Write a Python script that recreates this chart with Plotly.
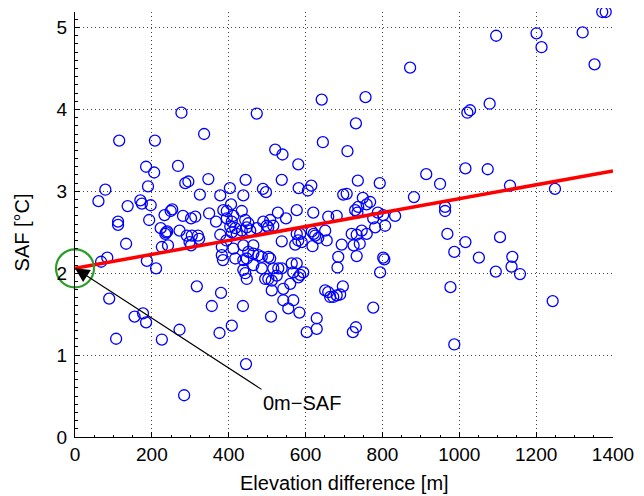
import plotly.graph_objects as go

# Elevation difference [m] and SAF [°C]
elev = [61, 79, 68, 84, 89, 107, 112, 112, 115, 133, 137,
        155, 170, 174, 177, 185, 187, 185, 190, 193, 197, 206, 208, 211,
        223, 226, 226, 233, 235, 237, 240, 242, 249, 253, 268, 272, 272, 277, 281, 284, 287, 295, 291, 298,
        302, 304, 302, 313, 317, 320, 323, 325,
        336, 347, 349, 356, 367, 376, 378, 378, 380, 382, 382, 385, 386, 395, 394, 395, 403, 406, 408, 404,
        408, 408, 412, 412, 417, 417, 421,
        434, 434, 438, 438, 438, 438, 443, 443, 444, 447, 447, 447, 437, 445, 451, 451, 456, 464, 464, 464,
        473, 473, 477,
        486, 486, 489, 497, 490, 495, 499, 503, 503, 503, 508, 508, 512, 512, 510, 516, 516, 521, 525, 528, 529,
        538, 538, 538, 540, 542, 542, 549, 555, 560, 564, 568, 568, 573, 577, 577, 577, 581, 582, 581, 581, 584,
        586, 590, 594, 586, 603, 606, 615, 616, 621, 620, 618, 625, 629, 629, 633, 642, 645, 651, 651, 655, 659, 659,
        664, 672, 681, 681, 683, 685, 690, 694, 697, 698, 707, 709, 720, 723, 725, 729, 731, 731, 733, 733, 735,
        736, 737, 741,
        746, 749, 756, 759, 759, 768, 776, 776, 781, 788, 793, 794, 802, 802, 805, 807, 833,
        872, 882, 914, 950, 963, 963, 969, 977, 987, 987,
        1016, 1016, 1021, 1028, 1051, 1074, 1079, 1095, 1096, 1106, 1132, 1138, 1136, 1158, 1201, 1214, 1243,
        1249, 1321, 1352, 1372, 1381]

saf = [2.88, 3.02, 2.14, 2.19, 1.69, 1.20, 2.63, 2.59, 3.62, 2.36, 2.82,
       1.47, 2.89, 2.85, 1.51, 3.30, 2.15, 1.40, 3.06, 2.65, 2.83, 3.23, 3.62, 2.06,
       2.55, 2.32, 1.19, 2.71, 2.48, 2.50, 2.51, 2.34, 2.76, 2.78, 3.31, 2.52, 1.31, 3.96, 2.70, 0.51, 3.10, 3.12,
       2.46, 2.38, 2.67, 2.46, 2.34, 2.69, 1.84, 2.46, 2.42, 2.96,
       3.70, 3.15, 2.73, 1.60, 2.63, 1.27, 2.95, 2.47, 1.76, 2.32, 2.22, 2.16, 2.77, 2.76, 2.40, 2.67, 3.04, 2.84,
       2.63, 2.57, 2.50, 1.36, 2.70, 2.30, 2.55, 2.18, 2.48,
       2.76, 2.52, 2.95, 2.34, 2.16, 2.04, 2.65, 2.00, 3.14, 2.56, 2.18, 1.93, 1.60, 0.89, 2.61, 2.26, 2.52, 2.34,
       2.24, 2.10, 3.95, 2.55, 2.22,
       2.20, 2.06, 3.03, 2.99, 2.63, 1.93, 2.58, 2.56, 2.20, 1.93, 2.65, 2.18, 1.91, 1.79, 1.47, 2.58, 2.06, 3.51,
       1.97, 2.74, 2.06,
       3.14, 2.39, 2.06, 3.45, 1.81, 1.67, 2.67, 1.57, 1.87, 2.12, 2.01, 1.67, 2.35, 2.77, 2.48, 2.12, 3.33, 3.04,
       2.40, 1.95, 1.52,
       2.48, 2.38, 2.01, 1.98, 1.28, 3.01, 3.07, 2.51, 2.48, 2.74, 2.33, 2.46, 1.45, 1.32, 2.43, 4.12, 3.60, 2.52,
       1.79, 2.40, 1.77, 2.69,
       1.71, 1.71, 2.70, 1.73, 2.07, 2.20, 1.74, 2.35, 1.84, 2.96, 2.97, 3.49, 2.48, 1.28, 2.34, 2.77, 3.83, 1.34,
       2.47, 2.21, 2.74, 3.13, 2.81, 2.36,
       2.52, 2.92, 4.15, 2.84, 2.48, 2.87, 2.67, 1.58, 2.56, 2.74, 3.10, 2.01, 2.71, 2.19, 2.17, 2.58, 2.70,
       4.51, 2.93, 3.21, 3.09, 2.81, 2.76, 2.48, 1.83, 2.26, 1.13,
       3.28, 2.38, 3.96, 3.99, 2.19, 3.27, 4.07, 2.02, 4.90, 2.44, 3.07, 2.20, 2.08, 1.99, 4.93, 4.76, 1.66,
       3.03, 4.94, 4.55, 5.19, 5.19]

assert len(elev) == len(saf)

# Regression line end points
fit_x = [0, 1400]
fit_y = [2.06, 3.25]

# 0m-SAF highlight
saf0_x = [0]
saf0_y = [2.06]
label_x = [591]
label_y = [0.41]

x_ticks = [0, 200, 400, 600, 800, 1000, 1200, 1400]
y_ticks = [0, 1, 2, 3, 4, 5]

FONT = "Liberation Sans, Arial, Helvetica, sans-serif"

fig = go.Figure()
fig.add_trace(go.Scatter(
    x=elev, y=saf, mode="markers", cliponaxis=False,
    marker=dict(symbol="circle-open", size=11, color="#0000ff", line=dict(width=1.3, color="#0000ff")),
    showlegend=False, hoverinfo="skip"))
fig.add_trace(go.Scatter(
    x=fit_x, y=fit_y, mode="lines", line=dict(color="#ff0000", width=3.5),
    showlegend=False, hoverinfo="skip"))
fig.add_trace(go.Scatter(
    x=saf0_x, y=saf0_y, mode="markers", cliponaxis=False,
    marker=dict(symbol="circle-open", size=38, color="#2a9d2a", line=dict(width=2.2, color="#2a9d2a")),
    showlegend=False, hoverinfo="skip"))

fig.add_annotation(x=saf0_x[0], y=saf0_y[0], xref="x", yref="y", ax=188, ay=122,
                   text="", showarrow=True, arrowhead=2, arrowsize=2.6, arrowwidth=1.1,
                   arrowcolor="black", standoff=0)
fig.add_annotation(x=label_x[0], y=label_y[0], xref="x", yref="y", text="0m\u2212SAF",
                   showarrow=False, font=dict(family=FONT, size=20, color="black"))

# Axis titles
fig.add_annotation(x=0.5, y=-0.108, xref="paper", yref="paper", text="Elevation difference [m]",
                   showarrow=False, xanchor="center", yanchor="middle",
                   font=dict(family=FONT, size=20, color="black"))
fig.add_annotation(x=-0.098, y=0.482, xref="paper", yref="paper", text="SAF [°C]", textangle=-90,
                   showarrow=False, xanchor="center", yanchor="middle",
                   font=dict(family=FONT, size=20, color="black"))

axis_common = dict(
    showgrid=True, gridcolor="#444444", griddash="1px,3px", gridwidth=1,
    showline=True, linecolor="black", linewidth=1,
    ticks="inside", ticklen=5, tickcolor="black", zeroline=False, automargin=False,
    tickfont=dict(family=FONT, size=19, color="black"),
    minor=dict(ticks="inside", ticklen=2.5, tickcolor="black", showgrid=False),
)

fig.update_xaxes(range=[0, 1400], tickvals=x_ticks, ticktext=[str(v) for v in x_ticks], **axis_common)
fig.update_yaxes(range=[0, 5.19], tickvals=y_ticks, ticktext=[str(v) for v in y_ticks],
                 ticklabelstandoff=3, **axis_common)
fig.update_xaxes(minor=dict(dtick=50))
fig.update_yaxes(minor=dict(dtick=0.1))

# page body has an 8px default margin, so the figure is sized to fit the 644x496 window
fig.update_layout(
    width=636, height=488,
    margin=dict(l=67, r=31, t=4, b=59),
    plot_bgcolor="white", paper_bgcolor="white",
    font=dict(family=FONT, color="black"),
)

fig.write_html("out.html")
